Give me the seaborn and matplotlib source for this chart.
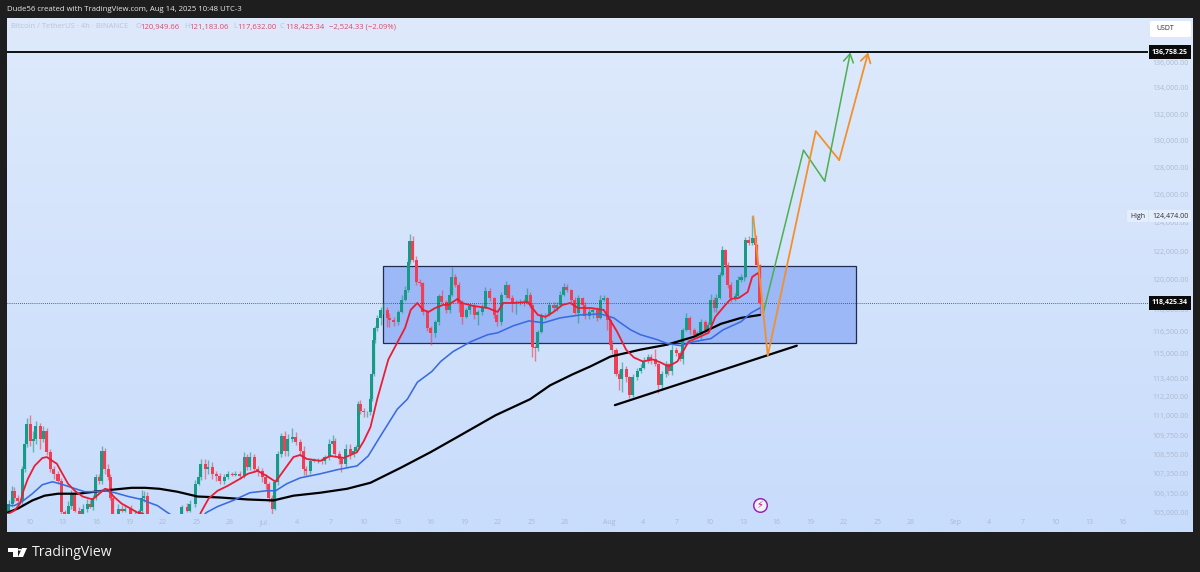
import numpy as np
import seaborn as sns
import matplotlib
matplotlib.use('Agg')
import matplotlib.pyplot as plt
from matplotlib.colors import LinearSegmentedColormap
from matplotlib.patches import Rectangle, Polygon, Circle, FancyBboxPatch

# x values are days counted from 10 June 2025, y values are USDT prices
candle_day = [
    -1.8, -1.5, -1.3, -1.0, -0.6, -0.4, -0.2, 0.1, 0.4, 0.6,
    1.0, 1.3, 1.6, 1.9, 2.2, 2.6, 2.9, 3.2, 3.5, 3.8,
    4.1, 4.5, 4.8, 5.2, 5.5, 5.7, 6.0, 6.3, 6.5, 6.8,
    7.1, 7.3, 7.5, 8.0, 8.3, 8.6, 9.1, 9.5, 9.9, 10.1,
    10.3, 10.6, 13.7, 14.2, 14.4, 14.9, 15.2, 15.4, 15.8, 16.0,
    16.4, 16.8, 17.1, 17.5, 17.8, 18.2, 18.5, 18.9, 19.3, 19.5,
    19.8, 20.2, 20.5, 20.9, 21.2, 21.5, 21.8, 22.0, 22.3, 22.6,
    22.9, 23.2, 23.6, 23.9, 24.3, 24.6, 24.8, 25.2, 25.5, 25.9,
    26.3, 26.5, 26.9, 27.2, 27.4, 27.8, 28.0, 28.4, 28.8, 29.1,
    29.3, 29.5, 29.7, 30.0, 30.3, 30.6, 30.7, 30.9, 31.0, 31.2,
    31.5, 31.7, 32.1, 32.3, 32.7, 33.1, 33.4, 33.7, 34.0, 34.1,
    34.4, 34.7, 35.0, 35.3, 35.7, 36.0, 36.4, 36.7, 37.0, 37.4,
    37.7, 37.9, 38.2, 38.5, 38.8, 39.2, 39.5, 39.9, 40.2, 40.6,
    40.9, 41.3, 41.7, 41.9, 42.3, 42.7, 43.0, 43.3, 43.6, 44.0,
    44.4, 44.6, 44.9, 45.1, 45.3, 45.6, 45.9, 46.2, 46.6, 47.0,
    47.3, 47.6, 47.9, 48.2, 48.6, 48.9, 49.2, 49.6, 49.8, 50.2,
    50.5, 50.9, 51.2, 51.5, 51.8, 52.1, 52.2, 52.6, 52.9, 53.1,
    53.5, 53.8, 54.1, 54.5, 54.8, 55.1, 55.5, 55.7, 56.1, 56.4,
    56.7, 57.1, 57.3, 57.6, 58.0, 58.3, 58.6, 58.9, 59.2, 59.6,
    59.9, 60.2, 60.6, 60.8, 61.1, 61.4, 61.6, 61.9, 62.1, 62.4,
    62.6, 62.9, 63.3, 63.5, 63.8, 64.1, 64.2, 64.5, 64.8, 65.1,
    65.2, 65.5,
]
candle_close = [
    105530, 106310, 105840, 105660, 107660, 109210, 110460, 109390, 109520, 110330,
    109520, 110020, 108700, 107660, 107350, 106920, 105050, 104330, 105410, 106130,
    105110, 104510, 105230, 105530, 105350, 105840, 107160, 106920, 108770, 107660,
    107160, 105840, 104750, 105230, 105110, 105230, 104750, 104930, 105110, 105840,
    106010, 104750, 105350, 105110, 105530, 106740, 107160, 107970, 107660, 107780,
    107350, 107220, 106920, 107160, 107350, 107290, 107350, 107220, 108390, 107780,
    108390, 107660, 107530, 107160, 106740, 105840, 105230, 106860, 108580, 109710,
    108770, 109520, 109640, 109330, 108770, 107660, 107530, 108150, 108210, 108210,
    108150, 108390, 109210, 109390, 108580, 108270, 107970, 108890, 108580, 108770,
    109020, 111730, 111280, 111220, 111220, 112050, 113660, 115950, 116740, 117410,
    117950, 117950, 117410, 117280, 117150, 117810, 118630, 119300, 121230, 122700,
    121370, 119850, 119780, 117810, 116740, 116410, 117150, 118900, 118490, 117950,
    118970, 120200, 119640, 118420, 117480, 117950, 118220, 117610, 117810, 118150,
    119240, 118760, 117610, 117150, 118970, 119640, 118760, 118490, 118490, 118490,
    118420, 118970, 118290, 115490, 115420, 116480, 117610, 117610, 118290, 118080,
    118290, 118970, 119500, 119300, 118630, 117750, 118760, 118290, 117550, 117810,
    117950, 117410, 118630, 118760, 117280, 115620, 115290, 113660, 113340, 113980,
    113470, 112310, 113470, 113850, 114110, 114510, 114770, 114640, 114310, 112950,
    113660, 114310, 113850, 115290, 115090, 114640, 116610, 117410, 116610, 116280,
    116410, 117150, 116610, 116950, 118630, 118080, 118760, 120340, 122070, 121030,
    119640, 118760, 118900, 119990, 120200, 120200, 122770, 122560, 122910, 122420,
    121030, 118425,
]
wick_up = [
    200, 300, 200, 200, 200, 300, 400, 600, 500, 300,
    200, 300, 200, 200, 200, 200, 200, 100, 300, 200,
    200, 200, 300, 300, 200, 200, 200, 200, 300, 200,
    300, 200, 200, 300, 200, 200, 200, 200, 100, 500,
    300, 200, 100, 200, 200, 200, 300, 300, 300, 400,
    300, 200, 200, 200, 200, 100, 200, 200, 300, 200,
    300, 200, 200, 200, 200, 100, 200, 200, 200, 200,
    300, 300, 600, 300, 200, 300, 200, 200, 100, 100,
    100, 100, 300, 400, 200, 200, 200, 300, 300, 200,
    100, 200, 300, 200, 100, 200, 100, 100, 100, 200,
    200, 500, 200, 300, 200, 100, 300, 300, 300, 500,
    400, 300, 200, 100, 100, 100, 100, 100, 400, 100,
    600, 700, 200, 200, 200, 100, 200, 200, 100, 200,
    300, 200, 100, 100, 200, 300, 100, 200, 100, 200,
    200, 500, 200, 100, 100, 100, 100, 100, 200, 200,
    200, 300, 300, 200, 100, 200, 200, 100, 200, 300,
    200, 200, 300, 200, 100, 100, 300, 100, 300, 500,
    200, 100, 200, 200, 200, 300, 200, 200, 700, 100,
    200, 200, 100, 300, 200, 100, 100, 300, 100, 100,
    100, 200, 100, 200, 400, 200, 300, 200, 300, 100,
    200, 200, 200, 300, 200, 100, 200, 300, 1560, 200,
    100, 100,
]
wick_down = [
    200, 200, 200, 300, 200, 200, 200, 300, 700, 300,
    600, 200, 200, 200, 300, 200, 300, 100, 200, 200,
    100, 100, 300, 200, 100, 200, 100, 200, 200, 300,
    200, 100, 100, 100, 100, 100, 100, 100, 100, 200,
    200, 100, 100, 100, 100, 200, 100, 200, 600, 300,
    300, 300, 200, 200, 100, 100, 100, 200, 100, 200,
    200, 200, 300, 300, 300, 200, 300, 100, 200, 200,
    300, 300, 200, 200, 300, 400, 300, 200, 100, 200,
    200, 200, 200, 100, 200, 300, 500, 200, 300, 200,
    100, 100, 200, 300, 300, 200, 100, 100, 200, 200,
    500, 300, 600, 500, 300, 200, 100, 100, 100, 100,
    100, 200, 200, 200, 200, 800, 300, 200, 100, 200,
    200, 100, 100, 600, 500, 100, 300, 300, 700, 200,
    100, 200, 200, 300, 200, 200, 100, 700, 800, 200,
    200, 100, 200, 700, 900, 200, 100, 300, 100, 200,
    200, 100, 100, 100, 200, 100, 700, 200, 200, 200,
    400, 200, 100, 100, 700, 100, 300, 100, 700, 800,
    300, 200, 100, 200, 100, 100, 100, 300, 100, 500,
    300, 200, 200, 200, 200, 100, 300, 100, 300, 100,
    200, 400, 200, 200, 100, 300, 300, 100, 100, 100,
    200, 300, 200, 100, 100, 300, 100, 100, 100, 100,
    100, 800,
]

red_day = [
    -1.8, -1.3, -0.8, -0.5, -0.1, 0.5, 1.2, 1.6, 2.1, 2.5, 3.0, 3.5, 4.1, 4.8, 5.7,
    6.2, 6.8, 7.2, 7.5, 8.3, 9.1, 9.7, 10.2, 10.6, 12.6, 14.9, 15.4, 16.1, 16.9, 17.8,
    18.9, 19.6, 20.5, 21.3, 22.1, 22.8, 23.7, 24.3, 24.9, 26.1, 27.0, 28.2, 29.4, 30.0,
    30.6, 31.2, 32.2, 33.0, 33.7, 34.2, 34.8, 35.3, 35.8, 36.4, 37.1, 37.6, 38.4, 38.8,
    39.8, 41.1, 42.0, 42.5, 43.4, 44.7, 45.1, 45.6, 46.3, 47.0, 47.8, 48.5, 49.2, 50.3,
    51.5, 51.9, 52.7, 53.5, 54.2, 55.0, 55.9, 56.6, 57.3, 58.1, 58.6, 59.1, 59.9, 60.9,
    61.5, 62.4, 62.9, 63.6, 64.4, 64.8, 65.3, 65.5,
]
red_price = [
    104930, 105110, 105530, 106310, 107040, 107840, 108330, 108390, 108150, 107970, 107350, 106740, 106310, 105960, 105780,
    106070, 106430, 106370, 106010, 105530, 105230, 104990, 104930, 104630, 104030, 104030, 104990, 105840, 106310, 106610,
    107040, 107350, 107530, 107220, 106860, 107530, 108390, 108520, 108270, 108150, 108460, 108330, 108700, 109390,
    110270, 112050, 114640, 115750, 116740, 117950, 118420, 117950, 117810, 118080, 118290, 118290, 118700, 118420,
    118220, 118080, 117810, 118420, 118420, 118490, 118080, 117610, 117480, 117810, 118290, 118420, 118080, 118080,
    117950, 117480, 116480, 115290, 114770, 114510, 114640, 114440, 114180, 114510, 115160, 115820, 116080, 116410,
    117480, 118290, 118700, 118760, 119170, 120200, 120470, 120200,
]
blue_day = [
    -2.0, -1.3, -0.6, 0.3, 1.2, 2.1, 2.8, 3.9, 5.0, 5.9, 6.8, 7.7, 8.9, 10.1, 11.0, 11.5, 12.4,
    13.5, 14.9, 15.9, 16.9, 18.3, 19.8, 21.3, 22.1, 23.1, 24.3, 26.1, 27.6, 29.4, 30.4, 31.5,
    33.0, 33.9, 34.8, 36.1, 36.9, 38.0, 39.6, 41.1, 42.0, 43.4, 44.8, 46.1, 47.6, 49.4, 51.2,
    52.4, 53.0, 53.9, 54.8, 56.3, 57.2, 58.4, 59.6, 61.1, 62.2, 63.8, 64.7, 65.5,
]
blue_price = [
    105410, 105410, 105660, 106130, 106680, 106860, 106740, 106490, 106250, 106250, 106310, 106190, 105960, 105780, 105530, 105410, 104990,
    104510, 104330, 104990, 105350, 105720, 106190, 106310, 106310, 106740, 107100, 107350, 107600, 107840, 108460, 109710,
    111410, 112050, 113150, 113850, 114510, 115160, 115820, 116280, 116410, 116880, 117210, 117080, 117410, 117610, 117680,
    117410, 117080, 116610, 116280, 115950, 115690, 115550, 115820, 116020, 116610, 117150, 117750, 118080,
]
black_day = [
    -1.9, -1.0, 0.3, 1.4, 2.6, 4.4, 5.9, 7.4, 9.2, 10.4, 11.7, 13.3, 15.1, 17.1, 19.6, 21.9, 23.7,
    26.1, 28.5, 30.6, 33.3, 36.0, 38.7, 41.8, 44.9, 46.7, 48.7, 50.3, 52.1, 54.8, 57.2, 59.6, 62.0, 63.8, 65.5,
]
black_price = [
    104990, 105230, 105720, 106010, 106130, 106130, 106250, 106370, 106490, 106490, 106430, 106250, 105960, 105900, 105780, 105720, 106010,
    106190, 106430, 106800, 107720, 108700, 109770, 111020, 112050, 112950, 113660, 114180, 114830, 115290, 115620, 116150, 117010, 117410, 117610,
]

green_day = [65.8, 69.4, 71.3, 73.6]
green_price = [117750, 129290, 127000, 136758.25]
orange_day = [64.9, 66.2, 70.5, 72.6, 75.2]
orange_price = [124474, 114900, 130710, 128550, 136758.25]
trend_day = [52.5, 68.8]
trend_price = [111670, 115550]
zone_day = [31.75, 74.1]
zone_price = [115750, 120960]

last_price = 118425.34
target_price = 136758.25
high_price = 124474
bolt_day = 65.5
bolt_price = 105470

y_ticks = [136000, 134000, 132000, 130000, 128000, 126000, 124000, 122000, 120000, 118000,
           116500, 115000, 113400, 112200, 111000, 109750, 108550, 107350, 106150, 105000]
x_ticks = [0, 3, 6, 9, 12, 15, 18, 21, 24, 27, 30, 33, 36, 39, 42, 45, 48, 52, 55, 58, 61,
           64, 67, 70, 73, 76, 79, 83, 86, 89, 92, 95, 98]
x_labels = ['10', '13', '16', '19', '22', '25', '28', 'Jul', '4', '7', '10', '13', '16', '19', '22', '25', '28',
            'Aug', '4', '7', '10', '13', '16', '19', '22', '25', '28', 'Sep', '4', '7', '10', '13', '16']

header = 'Dude56 created with TradingView.com, Aug 14, 2025 10:48 UTC-3'
symbol = 'Bitcoin / TetherUS · 4h · BINANCE'

sns.set_theme(style='white')
plt.rcParams['font.family'] = ['Open Sans', 'DejaVu Sans']

W, H = 1200, 572
DARK = '#1e1e1e'
GREEN = '#179a86'
RED = '#ee3f55'
TICK = '#aeb9ce'
PINK = '#e0476d'
PALE = '#b9c4d8'
SCALE_SIZE = 5.0
LEGEND_SIZE = 5.5


def px_rect(left, top, right, bottom):
    return [left / W, 1 - bottom / H, (right - left) / W, (bottom - top) / H]


def px(x, y):
    return (x / W, 1 - y / H)


fig = plt.figure(figsize=(W / 100, H / 100), dpi=100, facecolor=DARK)

# pane background
bg = fig.add_axes(px_rect(7, 18, 1193, 532), zorder=0)
cmap = LinearSegmentedColormap.from_list('pane', ['#deeafc', '#c8dcfb'])
bg.imshow(np.linspace(0, 1, 256)[:, None], cmap=cmap, aspect='auto')
bg.set_axis_off()

ax = fig.add_axes(px_rect(7, 18, 1148, 514), zorder=1)
ax.patch.set_visible(False)
for s in ax.spines.values():
    s.set_visible(False)
ax.set_yscale('log')
ax.set_xlim(-1.97, 100.27)
ax.set_ylim(104900, 139485)

ax.add_patch(Rectangle((zone_day[0], zone_price[0]), zone_day[1] - zone_day[0], zone_price[1] - zone_price[0],
                       facecolor='#9cb8f6', edgecolor='#222c50', linewidth=0.9, zorder=1))

# candles, each opens at the previous close
close = np.array(candle_close, dtype=float)
open_ = np.concatenate([[105000.0], close[:-1]])
high = np.maximum(open_, close) + np.array(wick_up)
low = np.minimum(open_, close) - np.array(wick_down)
colors = [GREEN if c >= o else RED for o, c in zip(open_, close)]
ax.vlines(candle_day, low, high, colors=colors, linewidth=1.0, alpha=0.6, zorder=2)
ax.bar(candle_day, np.abs(close - open_), bottom=np.minimum(open_, close), width=0.27,
       color=colors, linewidth=0, zorder=3)

ax.axhline(last_price, color='#333a4a', linewidth=0.6, linestyle=(0, (1, 1.5)), zorder=4)
ax.axhline(target_price, color='black', linewidth=1.3, zorder=4)

sns.lineplot(x=black_day, y=black_price, color='black', linewidth=1.6, sort=False, estimator=None, ax=ax, zorder=5)
sns.lineplot(x=blue_day, y=blue_price, color='#3a6be0', linewidth=1.15, sort=False, estimator=None, ax=ax, zorder=6)
sns.lineplot(x=red_day, y=red_price, color='#e91e36', linewidth=1.3, sort=False, estimator=None, ax=ax, zorder=7)
sns.lineplot(x=trend_day, y=trend_price, color='black', linewidth=1.6, sort=False, estimator=None, ax=ax, zorder=7)
sns.lineplot(x=green_day[:-1], y=green_price[:-1], color='#4caf50', linewidth=1.1, sort=False, estimator=None, ax=ax, zorder=8)
sns.lineplot(x=orange_day[:-1], y=orange_price[:-1], color='#f2902e', linewidth=1.3, sort=False, estimator=None, ax=ax, zorder=8)
ax.annotate('', xy=(green_day[-1], green_price[-1]), xytext=(green_day[-2], green_price[-2]), zorder=8,
            arrowprops=dict(arrowstyle='->,head_length=0.5,head_width=0.3', color='#4caf50', lw=1.1, shrinkA=0, shrinkB=0))
ax.annotate('', xy=(orange_day[-1], orange_price[-1]), xytext=(orange_day[-2], orange_price[-2]), zorder=8,
            arrowprops=dict(arrowstyle='->,head_length=0.5,head_width=0.3', color='#f2902e', lw=1.3, shrinkA=0, shrinkB=0))

# price events badge
ax.scatter([bolt_day], [bolt_price], s=95, facecolor='#eef2fc', edgecolor='#9c27b0', linewidth=1.1, zorder=9)
ax.text(bolt_day, bolt_price, '⚡', color='#c2185b', fontsize=7, ha='center', va='center', zorder=10,
        family=['DejaVu Sans'])

ax.set(xlabel='', ylabel='')
ax.set_xticks(x_ticks)
ax.set_xticklabels(x_labels)
ax.yaxis.tick_right()
ax.set_yticks(y_ticks)
ax.set_yticklabels([f'{v:,.2f}' for v in y_ticks])
ax.minorticks_off()
ax.tick_params(axis='x', length=0, pad=3.5, labelsize=SCALE_SIZE, labelcolor=TICK)
ax.tick_params(axis='y', length=0, pad=3, labelsize=SCALE_SIZE, labelcolor=TICK)

# labels on the price scale
ty = ax.get_yaxis_transform()
ax.text(1.0035, target_price, f'{target_price:,.2f}', transform=ty, color='white', fontsize=SCALE_SIZE, fontweight='bold',
        va='center', ha='left', clip_on=False, zorder=12,
        bbox=dict(boxstyle='square,pad=0.5', facecolor='#0a0a0a', edgecolor='none'))
ax.text(1.0035, last_price, f'{last_price:,.2f}', transform=ty, color='white', fontsize=SCALE_SIZE, fontweight='bold',
        va='center', ha='left', clip_on=False, zorder=12,
        bbox=dict(boxstyle='square,pad=0.5', facecolor='#0a0a0a', edgecolor='none'))
ax.text(1.0035, high_price, f'{high_price:,.2f}', transform=ty, color='#2a2e39', fontsize=SCALE_SIZE,
        va='center', ha='left', clip_on=False, zorder=12,
        bbox=dict(boxstyle='square,pad=0.4', facecolor='#e4edfc', edgecolor='none'))
ax.text(0.9842, high_price, 'High', transform=ty, color='#2a2e39', fontsize=SCALE_SIZE,
        va='center', ha='left', clip_on=False, zorder=12,
        bbox=dict(boxstyle='square,pad=0.4', facecolor='#e4edfc', edgecolor='none'))

# currency button
fig.add_artist(FancyBboxPatch(px(1150, 37), 41 / W, 16 / H, boxstyle='round,pad=0,rounding_size=0.002',
                              transform=fig.transFigure, facecolor='white', edgecolor='none', zorder=5))
fig.text(*px(1156, 29), 'USDT', color='#2a2e39', fontsize=SCALE_SIZE, va='center', ha='left', zorder=6)

# header and legend texts
fig.text(*px(7, 9.5), header, color='#e8e8e8', fontsize=5.55, va='center', ha='left')
fig.text(*px(11, 27), symbol, color=PALE, fontsize=LEGEND_SIZE, va='center', ha='left', zorder=6)
legend_parts = [(135, 'O', PALE), (140, '120,949.66', PINK), (184, 'H', PALE), (189, '121,183.06', PINK),
                (233, 'L', PALE), (237, '117,632.00', PINK), (280, 'C', PALE), (285, '118,425.34', PINK),
                (329, '−2,524.33 (−2.09%)', PINK)]
for xp, txt, col in legend_parts:
    fig.text(*px(xp, 27), txt, color=col, fontsize=LEGEND_SIZE, va='center', ha='left', zorder=6)

# footer logo
fig.add_artist(Polygon([px(8, 548), px(18, 548), px(18, 557), px(13, 557), px(13, 552), px(8, 552)],
                       closed=True, transform=fig.transFigure, facecolor='white', edgecolor='none'))
fig.add_artist(Circle(px(19.8, 549.8), 1.8 / W, transform=fig.transFigure, facecolor='white', edgecolor='none'))
fig.add_artist(Polygon([px(22, 548), px(27, 548), px(23, 557), px(18, 557)],
                       closed=True, transform=fig.transFigure, facecolor='white', edgecolor='none'))
fig.text(*px(32, 552.5), 'TradingView', color='#f2f2f2', fontsize=10.1, va='center', ha='left', fontweight='medium')

fig.savefig('out.png', dpi=100, facecolor=DARK)
